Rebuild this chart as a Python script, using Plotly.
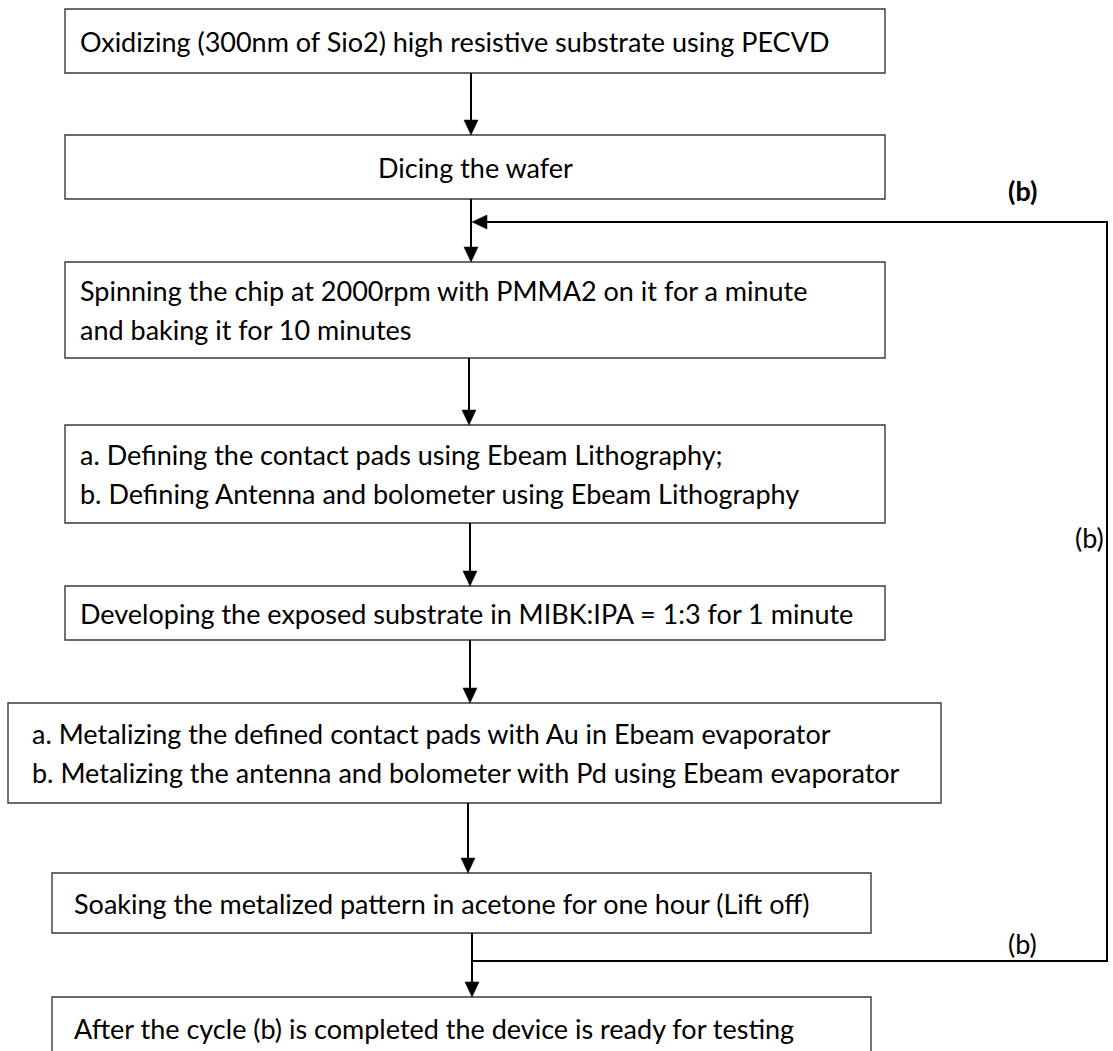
import plotly.graph_objects as go

# ---------------- data ----------------
step_lines = [
    ["Oxidizing (300nm of Sio2) high resistive substrate using PECVD"],
    ["Dicing the wafer"],
    ["Spinning the chip at 2000rpm with PMMA2 on it for a minute",
     "and baking it for 10 minutes"],
    ["a. Defining the contact pads using Ebeam Lithography;",
     "b. Defining Antenna and bolometer using Ebeam Lithography"],
    ["Developing the exposed substrate in MIBK:IPA = 1:3 for 1 minute"],
    ["a. Metalizing the defined contact pads with Au in Ebeam evaporator",
     "b. Metalizing the antenna and bolometer with Pd using Ebeam evaporator"],
    ["Soaking the metalized pattern in acetone for one hour (Lift off)"],
    ["After the cycle (b) is completed the device is ready for testing"],
]
step_align = ["left", "center", "left", "left", "left", "left", "left", "left"]
loop_labels = ["(b)", "(b)", "(b)"]

# ---------------- layout geometry (screen pixels) ----------------
W, H = 1113, 1051
box_x0 = [65, 65, 65, 65, 65, 8, 52, 52]
box_x1 = [885, 885, 885, 885, 885, 941, 871, 871]
box_y0 = [9, 135, 262, 425, 586, 703, 873, 997]
box_y1 = [73, 199, 358, 523, 640, 803, 933, 1060]
text_x = [78, 475, 78, 78, 78, 30, 72, 72]
text_yc = [41, 167, 310, 474, 613, 753, 903, 1028]
line_gap = 39
arrow_x = [471, 471, 469, 470, 470, 468, 472]
loop_top_y, loop_bot_y, loop_right_x = 222, 961, 1107
label_pos = [(1022, 190, "center", True), (1106, 537, "right", False), (1022, 943, "center", False)]

FONT = "Lato"
FS = 27
BOX_COLOR = "#3a3a3a"
AH_W, AH_L = 7, 15  # arrowhead half-width, length

shapes = []
annotations = []

for i, lines in enumerate(step_lines):
    shapes.append(dict(type="rect", xref="x", yref="y",
                       x0=box_x0[i], x1=box_x1[i], y0=box_y0[i], y1=box_y1[i],
                       line=dict(color=BOX_COLOR, width=1.4), fillcolor="white", layer="below"))
    n = len(lines)
    for k, t in enumerate(lines):
        y = text_yc[i] + (k - (n - 1) / 2) * line_gap
        annotations.append(dict(x=text_x[i], y=y, xref="x", yref="y", text=t, showarrow=False,
                                xanchor=step_align[i], yanchor="middle",
                                font=dict(family=FONT, size=FS, color="black")))


def down_arrow(x, y0, y1):
    shapes.append(dict(type="line", x0=x, x1=x, y0=y0, y1=y1 - AH_L + 2,
                       line=dict(color="black", width=2)))
    shapes.append(dict(type="path",
                       path=f"M {x-AH_W},{y1-AH_L} L {x+AH_W},{y1-AH_L} L {x},{y1} Z",
                       fillcolor="black", line=dict(color="black", width=0.5)))


for j in range(len(step_lines) - 1):
    down_arrow(arrow_x[j], box_y1[j], box_y0[j + 1])

# feedback loop (b)
shapes.append(dict(type="path",
                   path=f"M {arrow_x[6]},{loop_bot_y} L {loop_right_x},{loop_bot_y} "
                        f"L {loop_right_x},{loop_top_y} L {arrow_x[1] + AH_L - 2},{loop_top_y}",
                   line=dict(color="black", width=2)))
xt = arrow_x[1] + 1
shapes.append(dict(type="path",
                   path=f"M {xt},{loop_top_y} L {xt+AH_L},{loop_top_y-AH_W} L {xt+AH_L},{loop_top_y+AH_W} Z",
                   fillcolor="black", line=dict(color="black", width=0.5)))

for (lx, ly, anchor, bold), lab in zip(label_pos, loop_labels):
    annotations.append(dict(x=lx, y=ly, xref="x", yref="y",
                            text=f"<b>{lab}</b>" if bold else lab, showarrow=False,
                            xanchor=anchor, yanchor="middle",
                            font=dict(family=FONT, size=FS, color="black")))

fig = go.Figure()
fig.update_layout(
    width=W, height=H, margin=dict(l=0, r=0, t=0, b=0, pad=0), autosize=False,
    paper_bgcolor="white", plot_bgcolor="white",
    xaxis=dict(range=[0, W], visible=False, fixedrange=True),
    yaxis=dict(range=[H, 0], visible=False, fixedrange=True),
    shapes=shapes, annotations=annotations, showlegend=False,
)
fig.write_html(
    "out.html",
    config={"displayModeBar": False},
    post_script="document.body.style.margin='0';document.body.style.overflow='hidden';"
                "document.documentElement.style.overflow='hidden';",
)
